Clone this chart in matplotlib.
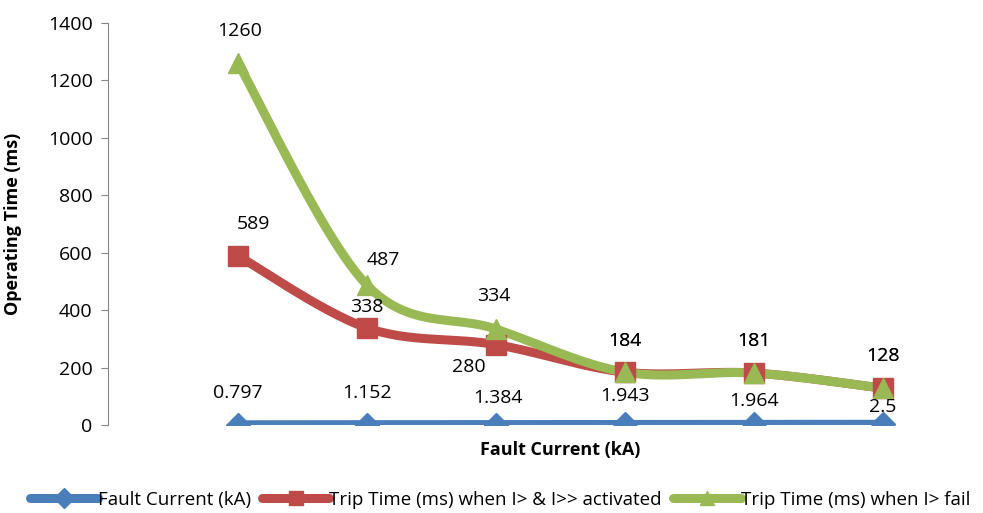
import numpy as np
import matplotlib
matplotlib.use('Agg')
import matplotlib.pyplot as plt

# data
categories = ['0.797', '1.152', '1.384', '1.943', '1.964', '2.5']
fault_current = [0.797, 1.152, 1.384, 1.943, 1.964, 2.5]
trip_both = [589, 338, 280, 184, 181, 128]
trip_fail = [1260, 487, 334, 184, 181, 128]

names = ['Fault Current (kA)', 'Trip Time (ms) when I> & I>> activated',
         'Trip Time (ms) when I> fail']
colors = ['#4a7ebb', '#be4b48', '#98b954']
markers = ['D', 's', '^']

plt.rcParams['font.family'] = ['Open Sans', 'DejaVu Sans']


def smooth(xs, ys, n=30):
    # Catmull-Rom style curve through the points (like Excel's smoothed line)
    xs = np.asarray(xs, float)
    ys = np.asarray(ys, float)
    px = np.concatenate([[xs[0]], xs, [xs[-1]]])
    py = np.concatenate([[ys[0]], ys, [ys[-1]]])
    outx, outy = [], []
    for i in range(1, len(px) - 2):
        t = np.linspace(0, 1, n)
        for p, out in ((px, outx), (py, outy)):
            p0, p1, p2, p3 = p[i - 1], p[i], p[i + 1], p[i + 2]
            b1 = p1 + (p2 - p0) / 6
            b2 = p2 - (p3 - p1) / 6
            out.extend((1 - t) ** 3 * p1 + 3 * (1 - t) ** 2 * t * b1
                       + 3 * (1 - t) * t ** 2 * b2 + t ** 3 * p2)
    return np.array(outx), np.array(outy)


fig = plt.figure(figsize=(9.83, 5.13), dpi=100)
ax = fig.add_axes([108 / 983, 88 / 513, (960 - 108) / 983, (490 - 88) / 513])

x = np.arange(len(categories))
series = [fault_current, trip_both, trip_fail]
for vals, c, m, lab in zip(series, colors, markers, names):
    sx, sy = smooth(x, vals)
    ax.plot(sx, sy, color=c, lw=6.5, solid_capstyle='round', zorder=2)
    ax.plot(x, vals, ls='none', marker=m, ms=15 if m != 'D' else 12,
            color=c, zorder=3)
    ax.plot([], [], color=c, lw=6.5, marker=m, ms=10, label=lab,
            solid_capstyle='round')

# data labels (pixel offsets of label centre from point)
blue_off = [(0, 32), (0, 32), (2, 27), (0, 28), (0, 23), (0, 17)]
red_off = [(15, 32), (0, 21), (-27, -22), (0, 31), (0, 32), (0, 32)]
green_off = [(2, 32), (16, 25), (-2, 33), (0, 31), (0, 32), (0, 32)]
label_sets = [(fault_current, categories, blue_off),
              (trip_both, [str(v) for v in trip_both], red_off),
              (trip_fail, [str(v) for v in trip_fail], green_off)]
for vals, texts, offs in label_sets:
    for xi, v, t, o in zip(x, vals, texts, offs):
        ax.annotate(t, (xi, v), xytext=o, textcoords='offset pixels',
                    ha='center', va='center', fontsize=14, zorder=4)

ax.set_xlim(-(238 - 108) / 129, 5 + (960 - 883) / 129)
ax.set_ylim(0, 1400)
ax.set_yticks(range(0, 1401, 200))
ax.set_xticks([])
for s in ['top', 'right', 'bottom']:
    ax.spines[s].set_visible(False)
ax.spines['left'].set_color('#868686')
ax.tick_params(axis='y', colors='#868686', labelcolor='black',
               labelsize=14, length=5, pad=6)

ax.set_ylabel('Operating Time (ms)', fontsize=13, fontweight='bold')
ax.yaxis.set_label_coords(-(108 - 22) / (960 - 108), 0.5)
fig.text(560 / 983, 1 - 450 / 513, 'Fault Current (kA)', ha='center',
         va='center', fontsize=13, fontweight='bold')

fig.legend(loc='center', bbox_to_anchor=(1000 / 2 / 983, 1 - 500 / 513),
           ncol=3, frameon=False, fontsize=13.5, handlelength=3.6,
           handletextpad=0.0, columnspacing=0.6)

fig.savefig('out.png', dpi=100)
